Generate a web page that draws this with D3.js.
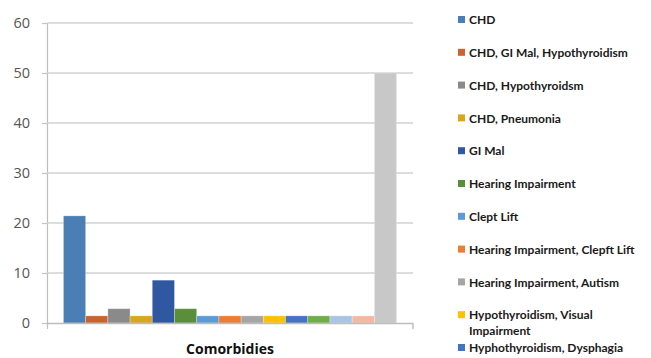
<!DOCTYPE html>
<html>
<head>
<meta charset="utf-8">
<script src="https://cdn.jsdelivr.net/npm/d3@7"></script>
<style>
  html, body { margin: 0; padding: 0; background: #fff; overflow: hidden; }
  svg { display: block; }
</style>
</head>
<body>
<svg id="chart" width="651" height="358"></svg>
<script>
const category = "Comorbidies";
const seriesNames = [
  "CHD",
  "CHD, GI Mal, Hypothyroidism",
  "CHD, Hypothyroidsm",
  "CHD, Pneumonia",
  "GI Mal",
  "Hearing Impairment",
  "Clept Lift",
  "Hearing Impairment, Clepft Lift",
  "Hearing Impairment, Autism",
  "Hypothyroidism, Visual Impairment",
  "Hyphothyroidism, Dysphagia",
  "Dysphagia",
  "Visual Impairment",
  "Autism",
  "None"
];
const seriesValues = [21.43, 1.43, 2.86, 1.43, 8.57, 2.86, 1.43, 1.43, 1.43, 1.43, 1.43, 1.43, 1.43, 1.43, 50];
const seriesColors = ["#4a7eb4", "#c8642c", "#8a8a8a", "#d8a51c", "#3058a0", "#5a8e3a",
  "#5b9bd5", "#ed7d31", "#a5a5a5", "#ffc000", "#4472c4", "#70ad47", "#a9c5e6", "#f4b8a2", "#c8c8c8"];
const yTicks = [0, 10, 20, 30, 40, 50, 60];

(function () {
const svg = d3.select("#chart");
const W = 651, H = 358;
const mLeft = 47, mRight = 413, mTop = 23, mBottom = 323;

const x0 = d3.scaleBand().domain([category]).range([mLeft, mRight]).padding(0);
const x1 = d3.scaleBand().domain(seriesNames).range([0, x0.bandwidth()]).paddingInner(0).paddingOuter(0.74);
const y = d3.scaleLinear().domain([0, 60]).range([mBottom, mTop]);

const yAxis = d3.axisLeft(y).tickValues(yTicks).tickSize(5).tickPadding(12).tickFormat(d3.format("d"));
const gY = svg.append("g").attr("transform", `translate(${mLeft},0)`).call(yAxis);
gY.select(".domain").attr("stroke", "#bdbdbd").attr("stroke-width", 1.2)
  .attr("d", `M0.5,${mTop}V${mBottom + 6}`);
gY.selectAll(".tick line").attr("stroke", "#c4c4c4").attr("stroke-width", 1.2);
gY.selectAll(".tick text").attr("fill", "#555").style("font-family", "'Open Sans', sans-serif").style("font-size", "14.5px");

svg.append("g").selectAll("line.grid").data(yTicks.filter(d => d > 0)).join("line")
  .attr("class", "grid")
  .attr("x1", mLeft).attr("x2", mRight)
  .attr("y1", d => y(d)).attr("y2", d => y(d))
  .attr("stroke", "#d2d2d2").attr("stroke-width", 1.4);

svg.append("g").selectAll("rect").data(seriesNames.map((n, i) => ({ name: n, value: seriesValues[i], color: seriesColors[i] })))
  .join("rect")
  .attr("x", d => x0(category) + x1(d.name))
  .attr("width", x1.bandwidth())
  .attr("y", d => y(d.value))
  .attr("height", d => y(0) - y(d.value))
  .attr("fill", d => d.color)
  .attr("stroke", "rgba(255,255,255,0.35)")
  .attr("stroke-width", 0.8);

const xAxis = d3.axisBottom(x0).tickSize(0).tickFormat("");
const gX = svg.append("g").attr("transform", `translate(0,${mBottom})`).call(xAxis);
gX.select(".domain").attr("stroke", "#bdbdbd").attr("stroke-width", 1.4)
  .attr("d", `M${mLeft},0.5H${mRight}V6`);

svg.append("text")
  .attr("x", 230).attr("y", 354)
  .attr("text-anchor", "middle")
  .style("font-family", "'Open Sans', sans-serif")
  .style("font-weight", "bold")
  .style("font-size", "14px")
  .attr("fill", "#111")
  .text(category);

// legend: as in the reference, only the entries that fit in the frame are shown
const legendY0 = 20, legendStep = 32.8;
const lg = svg.append("g");
let yy = legendY0;
seriesNames.forEach((name, i) => {
  if (yy + 6 > H) return;
  const g = lg.append("g").attr("transform", `translate(458,${yy})`);
  g.append("rect").attr("x", 0).attr("y", -4).attr("width", 7).attr("height", 7).attr("fill", seriesColors[i]);
  const t = g.append("text").attr("x", 11).attr("y", 0).attr("dy", "0.35em")
    .style("font-family", "Lato, sans-serif").style("font-weight", "bold")
    .style("font-size", "12px").attr("fill", "#1a1a1a");
  if (name === "Hypothyroidism, Visual Impairment") {
    t.append("tspan").attr("x", 11).text("Hypothyroidism, Visual");
    t.append("tspan").attr("x", 11).attr("dy", "16").text("Impairment");
  } else {
    t.text(name);
  }
  yy += legendStep;
});
})();
</script>
</body>
</html>
